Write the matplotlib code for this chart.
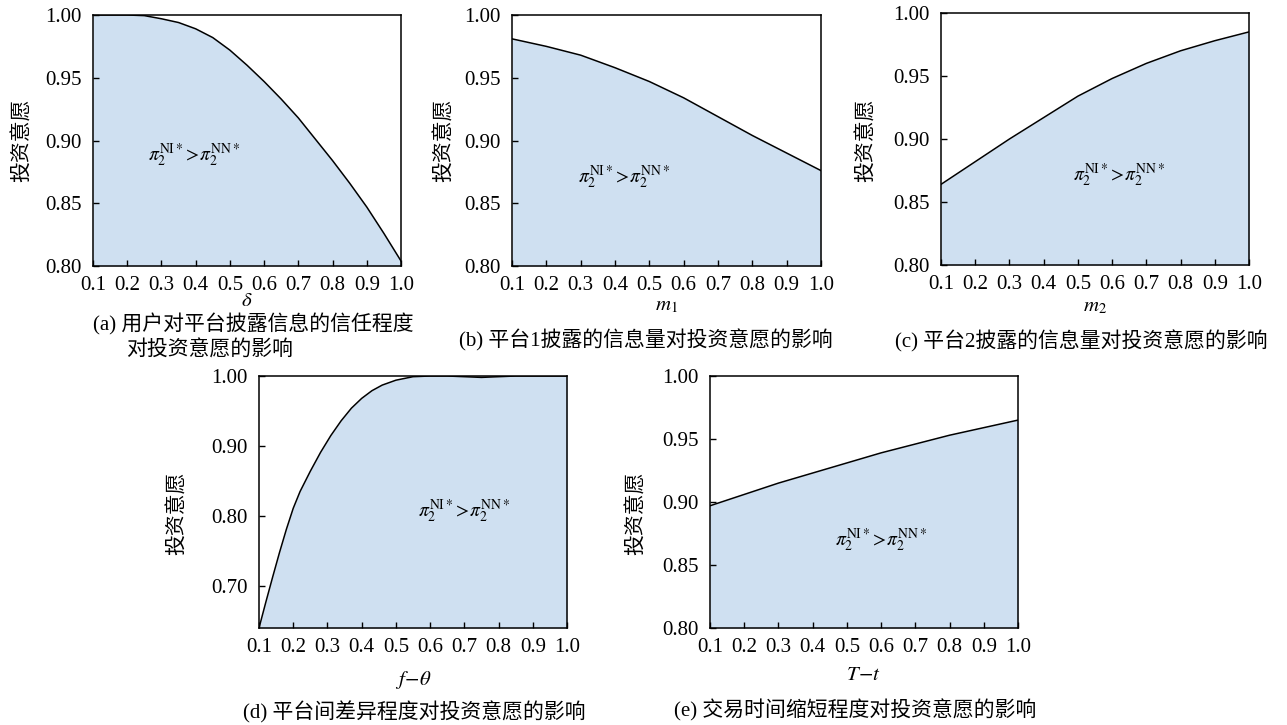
import matplotlib
matplotlib.use('Agg')
import matplotlib.pyplot as plt

plt.rcParams['font.family'] = ['Liberation Serif', 'Noto Sans CJK SC', 'DejaVu Sans']
plt.rcParams['mathtext.fontset'] = 'stix'
plt.rcParams['axes.unicode_minus'] = False

# 数据
x_a = [0.1, 0.15, 0.2, 0.25, 0.3, 0.35, 0.4, 0.45, 0.5, 0.55, 0.6, 0.65, 0.7, 0.75, 0.8, 0.85, 0.9, 0.95, 1.0]
y_a = [1.0, 1.0, 1.0, 0.9995, 0.997, 0.994, 0.989, 0.982, 0.972, 0.960, 0.947, 0.933, 0.918, 0.901, 0.884, 0.866, 0.847, 0.826, 0.804]

x_b = [0.1, 0.2, 0.3, 0.4, 0.5, 0.6, 0.7, 0.8, 0.9, 1.0]
y_b = [0.981, 0.975, 0.968, 0.958, 0.947, 0.934, 0.919, 0.904, 0.890, 0.876]

x_c = [0.1, 0.2, 0.3, 0.4, 0.5, 0.6, 0.7, 0.8, 0.9, 1.0]
y_c = [0.864, 0.882, 0.900, 0.917, 0.934, 0.948, 0.960, 0.970, 0.978, 0.985]

x_d = [0.1, 0.12, 0.14, 0.16, 0.18, 0.2, 0.22, 0.25, 0.28, 0.31, 0.34, 0.37, 0.4, 0.43, 0.46, 0.5,
       0.55, 0.6, 0.65, 0.7, 0.75, 0.8, 0.85, 0.9, 1.0]
y_d = [0.640, 0.677, 0.713, 0.748, 0.781, 0.811, 0.835, 0.864, 0.891, 0.915, 0.936, 0.954, 0.968, 0.979, 0.987, 0.994,
       0.999, 1.0, 1.0, 0.999, 0.998, 0.999, 1.0, 1.0, 1.0]

x_e = [0.1, 0.2, 0.3, 0.4, 0.5, 0.6, 0.7, 0.8, 0.9, 1.0]
y_e = [0.897, 0.906, 0.915, 0.923, 0.931, 0.939, 0.946, 0.953, 0.959, 0.965]

x_ticks = [0.1, 0.2, 0.3, 0.4, 0.5, 0.6, 0.7, 0.8, 0.9, 1.0]
y_ticks = [0.80, 0.85, 0.90, 0.95, 1.00]
y_ticks_d = [0.70, 0.80, 0.90, 1.00]

ylabel = '投资意愿'
region_text = r'$\pi_2^{\mathrm{NI}*}\!>\!\pi_2^{\mathrm{NN}*}$'

W, H = 1287, 725
fig = plt.figure(figsize=(W / 100, H / 100), dpi=100)
FILL = '#cfe0f1'
CJK = ['Liberation Serif', 'Noto Sans CJK SC']


def px(x, y):
    return x / W, 1 - y / H


def make_panel(box, xs, ys, ylo, yticks, xlabel, label_xy, text_xy, ylab_xy, caption_lines):
    l, t, r, b = box
    ax = fig.add_axes([l / W, 1 - b / H, (r - l) / W, (b - t) / H])
    ax.fill_between(xs, ylo, ys, color=FILL, lw=0)
    ax.plot(xs, ys, color='black', lw=1.1)
    ax.set_xlim(0.1, 1.0)
    ax.set_ylim(ylo, 1.0)
    ax.set_xticks(x_ticks)
    ax.set_xticklabels([f'{v:.1f}' for v in x_ticks])
    ax.set_yticks(yticks)
    ax.set_yticklabels([f'{v:.2f}' for v in yticks])
    ax.tick_params(direction='in', length=4, width=1, labelsize=15, top=False, right=False)
    ax.tick_params(axis='x', pad=7)
    ax.tick_params(axis='y', pad=8)
    for s in ax.spines.values():
        s.set_linewidth(1.1)
    ax.text(text_xy[0], text_xy[1], region_text, fontsize=14, ha='left', va='center')
    fig.text(*px(*label_xy), xlabel, fontsize=15, ha='center', va='center')
    fig.text(*px(*ylab_xy), ylabel, fontsize=15, ha='center', va='center', rotation=90, family=CJK)
    for (cx, cy, s, ha) in caption_lines:
        fig.text(*px(cx, cy), s, fontsize=15, ha=ha, va='center', family=CJK)
    return ax


make_panel((93, 15, 401, 266), x_a, y_a, 0.80, y_ticks, r'$\delta$', (247, 302), (0.262, 0.888), (23, 140),
           [(93, 324, '(a) 用户对平台披露信息的信任程度', 'left'), (126, 351, '对投资意愿的影响', 'left')])
make_panel((512, 15, 821, 266), x_b, y_b, 0.80, y_ticks, r'$m_1$', (666, 306), (0.293, 0.871), (445, 140),
           [(646, 340, '(b) 平台1披露的信息量对投资意愿的影响', 'center')])
make_panel((941, 13, 1249, 265), x_c, y_c, 0.80, y_ticks, r'$m_2$', (1095, 307), (0.486, 0.871), (867, 140),
           [(1081, 341, '(c) 平台2披露的信息量对投资意愿的影响', 'center')])
make_panel((259, 376, 567, 628), x_d, y_d, 0.64, y_ticks_d, r'$f\!-\!\theta$', (413, 680), (0.565, 0.807), (178, 513),
           [(414, 712, '(d) 平台间差异程度对投资意愿的影响', 'center')])
make_panel((710, 376, 1018, 628), x_e, y_e, 0.80, y_ticks, r'$T\!-\!t$', (864, 675), (0.465, 0.870), (637, 513),
           [(855, 710, '(e) 交易时间缩短程度对投资意愿的影响', 'center')])

fig.savefig('out.png', dpi=100)
